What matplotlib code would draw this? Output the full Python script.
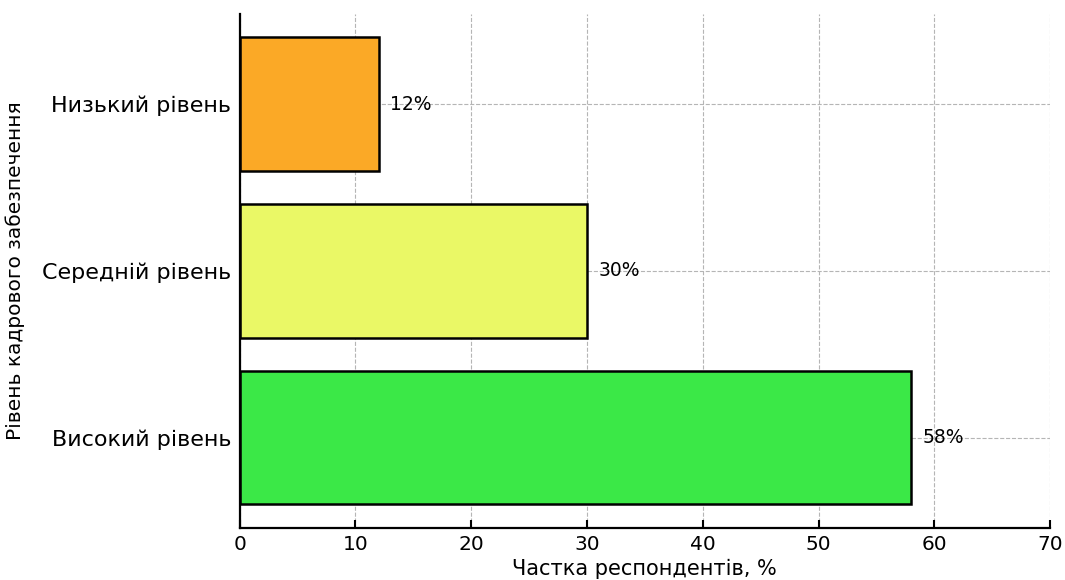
import matplotlib.pyplot as plt

# дані
levels = ['Високий рівень', 'Середній рівень', 'Низький рівень']
shares = [58, 30, 12]
colors = ['#3be847', '#eaf866', '#fba926']

fig = plt.figure(figsize=(10.65, 5.8), dpi=100)
ax = fig.add_axes([0.225, 0.09, 0.761, 0.886])

bars = ax.barh(levels, shares, height=0.8, color=colors, edgecolor='black', linewidth=1.8, zorder=2)
for b, v in zip(bars, shares):
    ax.text(v + 1, b.get_y() + b.get_height() / 2, f'{v}%', va='center', ha='left', fontsize=13.5, zorder=3)

ax.set_xlim(0, 70)
ax.grid(True, linestyle='--', color='#b5b5b5', linewidth=0.8, zorder=0)
ax.set_axisbelow(True)
ax.spines['top'].set_visible(False)
ax.spines['right'].set_visible(False)
ax.spines['left'].set_linewidth(1.6)
ax.spines['bottom'].set_linewidth(1.6)
ax.tick_params(axis='both', direction='in', width=1.5, length=6)
ax.tick_params(axis='y', labelsize=16, pad=6)
ax.tick_params(axis='x', labelsize=14.5, pad=5)
ax.set_xlabel('Частка респондентів, %', fontsize=15, labelpad=4)
ax.set_ylabel('Рівень кадрового забезпечення', fontsize=14.5, labelpad=12)

fig.savefig('out.png', dpi=100)
